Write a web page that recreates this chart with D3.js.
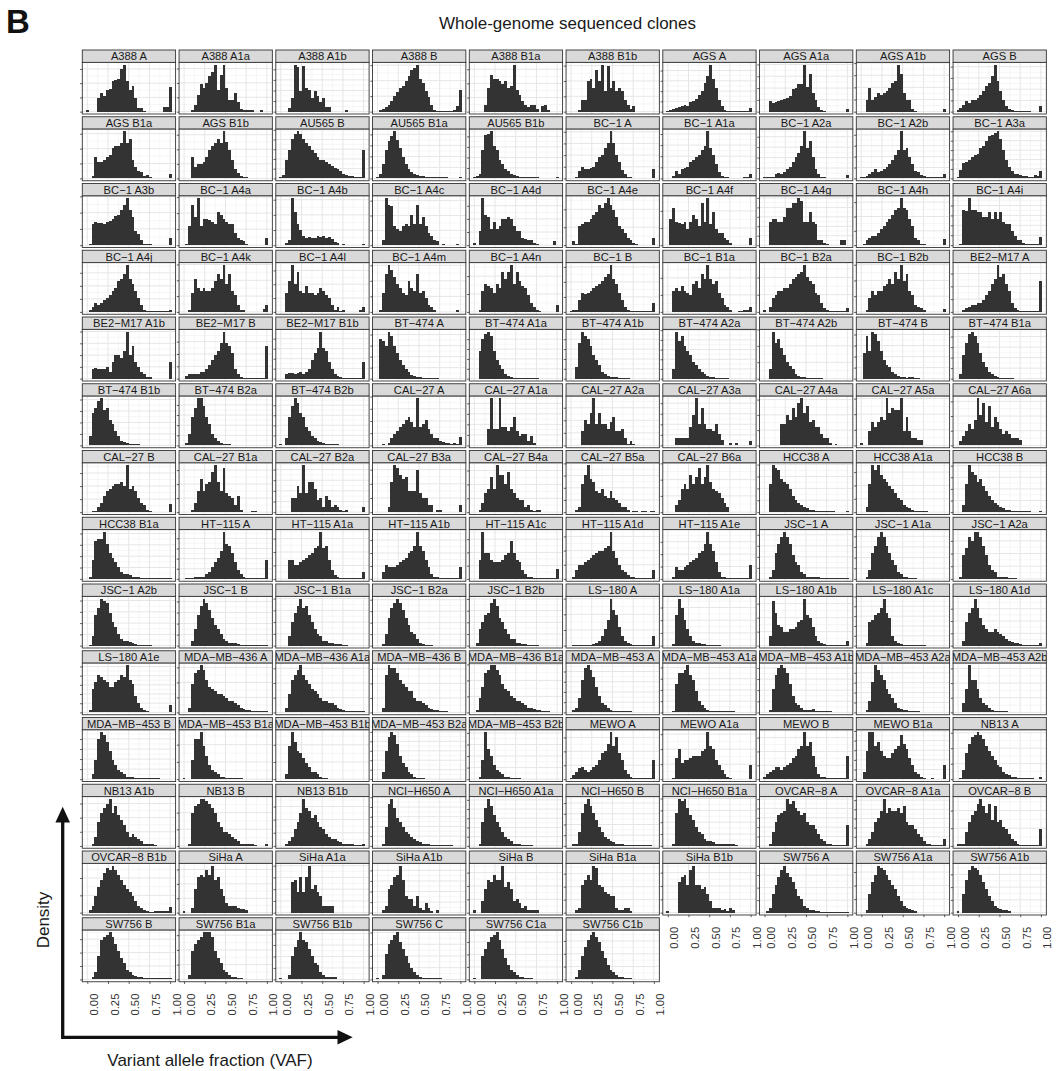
<!DOCTYPE html>
<html><head><meta charset="utf-8">
<script src="https://cdn.jsdelivr.net/npm/d3@7"></script>
<style>body{margin:0;background:#fff}svg{display:block}</style>
</head><body><svg id="chart" width="1058" height="1071"></svg>
<script>
// ---------------- DATA ----------------
const panelNames = [
"A388 A","A388 A1a","A388 A1b","A388 B","A388 B1a","A388 B1b","AGS A","AGS A1a","AGS A1b","AGS B",
"AGS B1a","AGS B1b","AU565 B","AU565 B1a","AU565 B1b","BC−1 A","BC−1 A1a","BC−1 A2a","BC−1 A2b","BC−1 A3a",
"BC−1 A3b","BC−1 A4a","BC−1 A4b","BC−1 A4c","BC−1 A4d","BC−1 A4e","BC−1 A4f","BC−1 A4g","BC−1 A4h","BC−1 A4i",
"BC−1 A4j","BC−1 A4k","BC−1 A4l","BC−1 A4m","BC−1 A4n","BC−1 B","BC−1 B1a","BC−1 B2a","BC−1 B2b","BE2−M17 A",
"BE2−M17 A1b","BE2−M17 B","BE2−M17 B1b","BT−474 A","BT−474 A1a","BT−474 A1b","BT−474 A2a","BT−474 A2b","BT−474 B","BT−474 B1a",
"BT−474 B1b","BT−474 B2a","BT−474 B2b","CAL−27 A","CAL−27 A1a","CAL−27 A2a","CAL−27 A3a","CAL−27 A4a","CAL−27 A5a","CAL−27 A6a",
"CAL−27 B","CAL−27 B1a","CAL−27 B2a","CAL−27 B3a","CAL−27 B4a","CAL−27 B5a","CAL−27 B6a","HCC38 A","HCC38 A1a","HCC38 B",
"HCC38 B1a","HT−115 A","HT−115 A1a","HT−115 A1b","HT−115 A1c","HT−115 A1d","HT−115 A1e","JSC−1 A","JSC−1 A1a","JSC−1 A2a",
"JSC−1 A2b","JSC−1 B","JSC−1 B1a","JSC−1 B2a","JSC−1 B2b","LS−180 A","LS−180 A1a","LS−180 A1b","LS−180 A1c","LS−180 A1d",
"LS−180 A1e","MDA−MB−436 A","MDA−MB−436 A1a","MDA−MB−436 B","MDA−MB−436 B1a","MDA−MB−453 A","MDA−MB−453 A1a","MDA−MB−453 A1b","MDA−MB−453 A2a","MDA−MB−453 A2b",
"MDA−MB−453 B","MDA−MB−453 B1a","MDA−MB−453 B1b","MDA−MB−453 B2a","MDA−MB−453 B2b","MEWO A","MEWO A1a","MEWO B","MEWO B1a","NB13 A",
"NB13 A1b","NB13 B","NB13 B1b","NCI−H650 A","NCI−H650 A1a","NCI−H650 B","NCI−H650 B1a","OVCAR−8 A","OVCAR−8 A1a","OVCAR−8 B",
"OVCAR−8 B1b","SiHa A","SiHa A1a","SiHa A1b","SiHa B","SiHa B1a","SiHa B1b","SW756 A","SW756 A1a","SW756 A1b",
"SW756 B","SW756 B1a","SW756 B1b","SW756 C","SW756 C1a","SW756 C1b"
];

// VAF bin centres (30 bins, ggplot default) and relative bar heights per panel
const vafBins = [0,0.0345,0.069,0.1034,0.1379,0.1724,0.2069,0.2414,0.2759,0.3103,0.3448,0.3793,0.4138,0.4483,0.4828,
                 0.5172,0.5517,0.5862,0.6207,0.6552,0.6897,0.7241,0.7586,0.7931,0.8276,0.8621,0.8966,0.931,0.9655,1];
const xTicks = [0, 0.25, 0.5, 0.75, 1];
const xTickLabels = ["0.00","0.25","0.50","0.75","1.00"];

const row01 = [
[0.3,0,0,0,2.9,3.9,3.4,4.7,4.9,6.6,6.7,7,9,10,6.6,4.7,5.5,2.9,0.7,0.7,0.2,0,0,0,0,0,0,1,1,5.3],
[0,0,0,0.3,1.5,3.5,5.8,5,6.2,7.5,8.5,10,4.7,7.8,10,5,2.5,2.4,4,2,0.5,0.4,0.4,0.3,0.3,0,0,0.3,0,0],
[0,0,0,0.8,3,10,9.5,4.5,9.8,5,4.6,3,4.4,3.4,2,3,1,1,0,0,0,0,0,0.4,0,0,0,0,0,0],
[0,0.3,0.5,1,1.5,2.2,3.3,4.2,5,5.5,6.5,7.5,8.8,9.2,10,7,6.2,4.5,3.2,1.5,0.4,0.2,0.2,0.2,0.2,0.2,0.2,0.3,1.2,4.7],
[0,0,0,0,1.5,5,7.8,7,7,6.5,6,6.5,5,5.5,10,4.7,3.5,2.3,1.5,1,1.5,1.5,0.5,0,1.2,1.5,0.3,0,0,0],
[0,0,0,0.4,2.5,2.5,6.5,7,5,8.8,6.5,10,4.5,9.8,5,6.5,4.5,5,4.5,2.5,1.5,0.5,1.3,0,0,0,0,0,0,0],
[0.2,0.3,0.5,0.8,1,1.3,1.5,1.3,2,2.3,2.8,3.5,4.5,6.2,7.5,10,7,5,2.5,1.2,0.4,0.2,0.1,0.1,0.1,0.1,0.1,0.1,0.1,0.8],
[0,0,2.3,1.9,2,2.2,2.4,2.6,3,3.3,4.8,5,5.8,6,10,5.2,8,4,2.4,1,0.3,0.2,0,0,0,0,0,0,0,0.5],
[0,0,2.5,5,2.5,3.2,4,3.5,4,4.5,5,6.2,6.5,10,8,4,2.5,2.4,0.5,0.2,0,0,0,0,0,0,0,0,0,0.5],
[0.3,0.8,1.5,2.3,1.8,2.4,2.5,3,3.5,4.5,5.5,6.2,7.5,10,6.5,4.5,2.5,1.2,0.5,0.3,0.2,0.2,0.2,0.2,0.1,0.1,0,0,0,1.2]
];
const row02 = [
[0,0,0.5,4.5,3.5,3.5,4,4.5,5,6.5,7,7,7.5,10,7.5,8.5,4,2.5,1.5,1.3,0.5,0.8,0.4,0.1,0.1,0.1,0.1,0.1,0.1,1],
[0,0,0,4.5,2.5,3,3,3.5,4.5,6,7,7.5,8.3,7.5,10,7.8,6,4,2,1.2,0.5,0.3,0.2,0.1,0.1,0.1,0.1,0.1,0.1,0.1],
[0.3,0.8,4,6,8.5,9.5,10,9.5,8.5,7.5,7,6,5.5,4.5,4,4,3.5,3,2.7,2.2,2,1.5,1,0.8,0.5,0.5,0.3,0.3,0.3,6],
[0.2,1,3,6,8,9,10,8.2,6.5,4.5,3,2,1.3,0.9,0.7,0.5,0.5,0.4,0.3,0.3,0.3,0.2,0.2,0.2,0.2,0.1,0.1,0.1,0.1,0.2],
[0.2,0.5,1,6,9.3,9.5,10,7,6,4,3,2,1.5,1,0.8,0.5,0.4,0.3,0.3,0.2,0.2,0.2,0.2,0.1,0.1,0.1,0.1,0.1,0.1,0.2],
[0,0,0.3,1.5,2.5,2,2,2.2,2.5,3.5,4.5,5,6.5,7.5,10,7.5,5,3.5,1.8,1,0.3,0.2,0.1,0.1,0.1,0.1,0.1,0.1,0.1,2],
[0,0,0.5,1.5,1,2,2.2,2.5,3.5,4,4.5,5,6,7,10,6.5,5,3,1.3,0.5,0.2,0.2,0.1,0.1,0.1,0.1,0.1,0.3,0.4,1],
[0.2,0.2,0.2,0.3,1,1.2,1,1.3,2,2.5,3.5,4.5,5.5,7,10,6.5,8,4.5,2,1,0.3,0.2,0.1,0.1,0.1,0.1,0.1,0.1,0.1,0.8],
[0.3,0.4,0.6,1,1.3,2,1.3,1.6,2,2.5,3,4,5,6,10,6,6.5,4.5,3,1.5,1.3,0.8,0.5,0.3,0.2,0.2,0.2,0.2,0.2,1],
[0.3,1.8,3.3,3.5,4,4.5,5,5.2,6.5,7,8,9,9.3,9.6,10,8.5,6,4,2.5,1.5,1,0.9,0.7,0.5,0.5,0.3,0.3,0.7,0.6,1.5]
];
const row03 = [
[0,0.3,4.5,5,4.7,4.8,4.6,5,5.2,5.5,6.3,6.5,7.5,8.5,10,7.5,6,3,2.4,1,0.2,0.3,0.2,0,0,0,0,0,0,1.5],
[0,0.2,4,8.5,6,10,4,5.5,5.5,5.3,5,4.5,7,6.5,5.5,5,4.5,4.5,2.5,1.5,1,0.8,0.2,0,0,0,0,0,0,1.5],
[0,0,0.5,1,10,7,4.5,3.3,2,1.5,1.8,1.5,1.5,2,1.8,2,1.5,1.8,1.3,0.7,0.5,0,0.3,0,0,0,0,0,0,0.3],
[0,0,1,10,8.5,8.3,4,3.5,3,4,4.5,4,6.5,4.5,8.5,4.5,6,4,2.5,2,1,0.8,0,0.3,0,0,0,0,0.3,0],
[0.5,0,3,10,6.5,6,3.5,5,3.5,4,5.5,5.5,6,5.5,4,3,3,1.5,1.3,1,1.2,0.5,0.3,0,0,0,0,0,0.8,0],
[0,0.8,0.3,4,4.5,5,5,5.5,6.5,7,8.5,8,9,10,8.5,7.5,6,4,3.5,2.5,1.5,1,0.5,0.2,0,0,0,0,0,1.5],
[0,5.5,8,5,4.8,4.5,5,3.5,5,6.5,5.5,4,9,5,10,4.5,7,3.5,2.5,2.5,1.5,1,0.5,0,0,0,0,0,0,1.5],
[0,0,5,5.5,5.5,5,5,6,8,8,9,9,10,9.5,5,5,7,5,4.5,1,1,0.5,0.2,0,0,0,0,1,1,0],
[0,0.3,1,1.5,2,2,2.5,3.5,4,5,5.5,6.5,7.5,8,10,8,7.5,5.5,4,1.5,1,0.3,0.2,0,0,0,0,0,0,1.3],
[0,0.3,7.5,7.2,10,7.5,7.5,7,7,6,6,7,5.5,7,5.5,7,5,4.5,4.5,3,2,1,1,0.5,0.3,0.3,0.2,0.2,0.2,1.8]
];
const row04 = [
[0,0.3,1,1.8,1.5,2,2.5,3,3.5,4.5,5,6.5,7,8,10,7,6,4.5,3,1.5,0.5,0.2,0.2,0.1,0.1,0.1,0.1,0.1,0.1,0.4],
[0,0,0.3,4,7,5,4.5,5,4.5,4.5,5,6.5,8,7,10,6,8,4.5,3.5,1.5,0.5,0.3,0,0,0,0,0,0,0.6,1.5],
[0,0,4,6.5,10,6,8.5,4.5,4,5.5,4,4,3.5,4,5,4.5,3.5,3,1.5,0.5,1,0.2,0.3,0,0,0,0,0,0.5,1],
[0,0.3,4,8,10,9,7.5,6,5,4,3.5,6.5,5,4.5,8,4,4.5,3,1.5,1,0.5,0,0,0,0,0,0,0,0.3,0],
[0,0,0.3,4.5,6,5.5,5,4,6,5,8.5,7,8.5,10,6,8.5,6.5,5.5,5,3.5,2,1,0.5,0.2,0,0,0,0,0,1.5],
[0.2,0.3,0.5,2.5,4,3.8,4,4.5,5,5.5,6,6.5,7.5,8,10,7,6,4,2.5,1,0.3,0.2,0.2,0.2,0.2,0.2,0.2,0.2,0.2,2],
[0,0,4.5,5,4.5,5.5,4.5,4,3.5,6,6.5,5,8,7,10,7,6,6.5,4,3,1.5,1,0.3,0,0,0.2,0.2,0.3,0.3,1],
[0.3,0,1,3,3.5,4.5,4.5,5,5,6,7,7.5,8,8.5,10,7.5,6.5,6,4,3.5,2,0.8,0.3,0.2,0.2,0.2,0.2,0.2,0.2,0.8],
[0,0,0.5,3,4.5,3.5,4.5,4.5,5.5,6,7,6,8.5,7,10,6.5,8,4.5,3.5,1.5,1,0.8,0.3,0,0,0,0,0,0,0.6],
[0,0,0.5,0.8,1.1,1.4,1.5,1.8,2,2.5,3.5,4.5,6,7,10,7.5,8,6,4.5,2,0.8,0.3,0.2,0.1,0.1,0.1,0.1,0.1,0.1,6.5]
];
const row05 = [
[0,0,2,2.2,2,2,2,2.5,1.5,3.5,5,5,4.5,6,10,5,7,3.5,2.5,1.5,1,0.3,0.3,0,0,0,0,0,0,3.5],
[0,0.5,1,1,1,1,1.5,1.5,2,3,4,5,6,7.5,10,7.5,7,5.5,2,1,0.3,0.2,0.1,0.1,0.1,0.1,0.1,0.1,0.1,7],
[0,0,1,1.2,1.2,1,1.3,1.5,1,1.5,2,4,5.5,6.5,10,6.5,6,3.5,2,1,0.5,0.3,0.1,0.1,0.1,0.1,0.1,0.1,0.1,3.5],
[0,8.5,8,7,10,9,7,5.5,4,3,2,1.5,0.8,0.5,0.3,0.3,0.2,0.1,0.1,0.1,0.1,0.1,0,0,0,0,0,0,0,0],
[0,0,6,8.5,9.5,10,9,6,4,3,2,1,0.5,0.3,0.2,0.2,0.2,0.1,0.1,0.1,0.1,0.1,0.1,0,0,0,0,0,0,0],
[0,0,2.5,7.5,10,9,8.5,7,5,4,3,1.5,1,0.5,0.3,0.3,0.3,0.2,0.1,0.1,0.1,0,0,0,0,0,0,0,0,0],
[0,0,2,10,8,9,7,6,5,3.5,3,2,1.5,1,0.5,0.4,0.3,0.2,0.2,0.1,0.1,0.1,0,0,0,0,0,0,0,0],
[0,0,2,10,7.5,8.5,6.5,5,3.5,2.8,2,1,0.5,0.3,0.3,0.2,0.2,0.1,0.1,0.1,0.1,0,0,0,0,0,0,0,0,0],
[0,5.5,9,6,10,9.5,8,6,4,3,2.5,1.5,1,0.5,0.3,0.3,0.2,0.3,0.3,0.2,0.1,0,0,0,0,0,0,0,0,0],
[0,1,5,7.5,9.5,10,9,7.5,5.5,3.5,2.5,1.5,1,0.5,0.3,0.2,0.2,0.1,0.1,0.1,0,0,0,0,0,0,0,0,0,0]
];
const row06 = [
[0,2,7,8,9.5,10,7.5,8,5.5,4.5,3,2,1,0.8,0.5,0.3,0.3,0.2,0.2,0.1,0.1,0.1,0.1,0.1,0.1,0,0,0,0,0],
[0,0.5,2.5,6,8,10,10,8.5,6,4.5,2.5,1.5,1,0.5,0.3,0.2,0.2,0.1,0.1,0.1,0,0,0,0,0,0,0,0,0,0],
[0.2,0,1.5,6,8.5,10,9,7,6,4,3,2,1.5,1,0.7,0.5,0.3,0.2,0.2,0.2,0.2,0.1,0,0,0,0,0,0,0,0],
[0,0,0.2,0,0.5,1.5,2.5,3,4,4.5,5.5,6,5,4,10,4,4.5,5.5,3.5,2.5,1.5,1.5,1,0.8,0.5,0.5,0.3,0.5,0.3,1.8],
[0,0,0,0,0,3.5,10,3.5,3.5,10,4,4,3,4,6,3,2,2.5,2.5,1,2,0.5,0,0,0,0,0,0,0,0],
[0,0,0,0,3,5.5,4.5,7,10,4.5,7,4.5,4.5,3.5,5,6,3,3,3.5,1.5,0.3,1,0.3,0,0,0,0,0,0,0],
[0,0,0,1.5,1.5,1.5,1.5,1.5,4,6.5,10,4.5,8,4.5,3.5,3.5,3,4.5,2.5,1.2,0,0,0.5,0,0.5,0,0,0,0,1],
[0,0,0,0,0,0,4.5,4.5,6.5,5.5,8,6,9,10,7,8.5,5,5.5,4,4,2.5,1.5,1.5,0.5,0,0.3,0,0,0,0],
[0.5,0,0,3,5,4,5,6,5.5,10,7,8,7.5,7.5,10,3,6,3,1.5,1.5,1.2,1.2,0,0,0,0,0,0,0,0],
[0,1,2,3,4.5,3.5,5.5,10,6.5,9,5,8.5,4,6,5,3.5,2.5,3,2.5,1.5,1.5,1.5,1.2,0,0,0,0,0,0,0]
];
const row07 = [
[0,0,0.2,0.3,1,2,3.5,4.5,5,5.5,6,6,6.5,5.5,10,5,5.5,4.5,3,2,1.5,0.5,0.2,0.1,0.1,0.1,0.1,0.1,0.1,1.8],
[0,0,0,0.5,2,4.5,7,4.5,6,6.5,8.5,10,6.5,4.5,9.5,4,3.5,3,1.5,3.5,0.5,0,0,0,0.3,0.3,0,0,0,0],
[0,0,0,0,3,3,5.5,4,10,4,6.5,6.5,5,2.5,3,1,3.5,2.5,1,1.5,1,0.5,0.3,0.5,0,0,0,0,0,1],
[0,0,0,0,1,6.5,10,9.5,8,7,7.5,4.5,4.5,4.5,9,4,3,3,1.5,1.5,0,0.5,0.5,0,0,0,0,0,0,1.5],
[0,0,0.5,2,4,5,7.5,5,10,8,8,6,8.5,5,4,3,2.5,2.5,1,1.5,0.5,0.3,0.5,0.5,0,0,0,0,0,0],
[0,0,0.5,1,6,8,10,7,6.5,4.5,4,5,3.5,3,4.5,3,2.5,2,1,1,0.5,0,0.3,0.3,0,0.3,0.3,0,0.3,0.3],
[0,0,0,1.5,2.5,5,6,5,8,6,7.5,9.5,6,7.5,10,6.5,5,4.5,4,3,2,1,0,0,0,0,0,0,0,0],
[0,0,6,10,9.5,9,7,6.5,6,5,3.5,2.5,2,1.5,1,0.8,0.5,0.5,0.3,0.2,0.2,0.2,0.2,0.2,0.2,0.1,0.1,0.1,0.1,0.3],
[0,0,1,6,10,9,10,8,7,6.5,5.5,5,4,3,2.5,1.5,1,0.8,0.5,0.3,0.2,0.2,0.2,0.2,0.1,0,0,0,0,0],
[0,0,1.5,6,10,8.5,8,6.5,7,5.5,4.5,3.5,2.5,2,1.5,1,0.8,0.5,0.4,0.3,0.2,0.2,0.2,0.2,0.2,0.2,0.1,0.1,0.1,0.3]
];
const row08 = [
[0,0.5,4,8,8.5,8.5,10,7.5,5.5,4.5,3.5,2.5,1.5,1,1,0.8,0.5,0.5,0.3,0.2,0.2,0.2,0.2,0.2,0.1,0.1,0.1,0.1,0.1,0.1],
[0,0.2,0.2,0.2,0.3,0.3,0.5,0.5,1,1.5,2.5,3.5,4.5,6,10,7.5,7,5.5,3.5,2,1,0.3,0.1,0.1,0.1,0.1,0.1,0.1,0.1,4],
[0,0,0,4,4,3,3,3.5,4,4.5,5,5.5,6.5,7,10,6.5,7,4,2,0.8,0.3,0.2,0.1,0.1,0.1,0.1,0.1,0.1,0.1,1.5],
[0,0,1.5,3,2.5,2.5,2.5,3,3.5,4,4.5,5.5,6,7,10,7,6,4,2.5,1,0.5,0.3,0.1,0.1,0.1,0.1,0.1,0.1,0.1,2.5],
[0,0,4,10,5.5,5.5,4,3.5,3.5,3.5,4,5,5.5,8,5.5,4,3.5,2,1,0.5,0.3,0.1,0.1,0.1,0.1,0.1,0.1,0.1,0.1,2.2],
[0,0.3,2,3,3,3.5,4,4.5,5,5.5,6,6,6.5,7,10,6,4.5,3,2,1.5,0.8,0.5,0.3,0.1,0.1,0.1,0.1,0.1,0.1,2],
[0,0,0.3,2.5,2,2,2.5,3,3.5,4,4.5,5.5,6,7.5,10,7.5,6,3.5,1.5,0.5,0.3,0.1,0.1,0.1,0.1,0.1,0.1,0.1,0.1,3],
[0,0,0.5,2,5.5,7.5,9,10,9,7.5,5,3.5,3,1.5,1,0.5,0.5,0.4,0.4,0.3,0.2,0.1,0.1,0.1,0.1,0.1,0.1,0.1,0.1,0.1],
[0,0,0.3,2,5.5,7,9,10,9,7,5.5,4,3,1.5,1,0.3,0.3,0.2,0.1,0.1,0,0,0,0,0,0,0,0,0,0],
[0,0.3,5,6.5,9,8,10,10,9,7,5,3,2,1.5,0.5,0.3,0.5,0.3,0.2,0.1,0.1,0,0,0,0,0,0,0,0,0]
];
const row09 = [
[0,0.2,2,6.5,8,10,9.5,9,7,5,4,2.5,1.5,1,1,0.8,0.5,0.3,0.2,0.2,0.2,0.2,0.1,0,0,0,0,0,0,0],
[0,0,0,1,3.5,6.5,8.5,10,9,7.5,6,4.5,3.5,2.5,1.5,1,0.5,0.5,0.5,0.3,0.2,0.2,0.2,0.2,0.2,0.1,0.1,0.1,0.1,0.1],
[0,0,0,2,5,7,8.5,10,8,8.5,6.5,5,3.5,2.5,2,1,1,0.5,0.5,0.3,0.3,0.3,0.2,0.1,0,0,0,0,0,0],
[0,0,0.3,2.5,6,8,9,10,9,7.5,6,4.5,3,2.5,1.5,0.5,0.3,0.2,0.1,0.1,0,0,0,0,0,0,0,0,0,0],
[0,0.5,3.5,5,6.5,7,9,10,8.5,6,5,3.5,2.5,1.5,1.5,0.5,0.5,0.3,0.3,0.2,0.1,0.1,0.1,0,0,0,0,0,0,0],
[0,0.1,0.1,0.1,0.2,0.2,0.2,0.2,0.3,0.5,1,2,3.5,5.5,10,7.5,6.5,4,2,1,0.5,0.3,0.1,0.1,0.1,0.1,0.1,0.1,0.1,2],
[0,0,0.3,6.5,10,8,5.5,3.5,2,1,0.5,0.5,0.3,0.3,0.2,0.2,0.2,0.2,0.1,0,0,0,0,0,0,0,0,0,0,0],
[0,0,2,9.5,7,4.5,4,3,3,3.5,3.5,4,5,5.5,10,6.5,6,4,2,1,0.5,0.3,0.1,0.1,0.1,0.1,0.1,0.1,0.1,1],
[0,0,0.5,5,5.5,6.5,7,8,10,7,6,2,1,0.5,0.3,0.2,0.2,0.2,0.2,0.2,0.2,0.2,0.1,0,0,0,0,0,0,0],
[0,0,1,5,7,8,10,8,6,4.5,3.5,3,3,3.5,3,2.5,2,1.5,1,0.8,0.5,0.5,0.3,0.2,0.2,0.2,0.2,0.1,0.1,0.5]
];
const row10 = [
[0,0.5,5,6.5,8,7.5,7,6.5,5.5,5.5,6.5,7,8,7.5,10,7,6,3.5,2,1,0.5,0.3,0.1,0.1,0.1,0.1,0.1,0.1,0.1,1.5],
[0,0,1,6,8.5,9,10,9,7,5.5,5,4.5,4,4,3.5,3,2.5,2.5,2,1.5,1,0.8,0.5,0.5,0.3,0.2,0.2,0.2,0.2,0.2],
[0,0,1,4,7,8,9,10,8,7,6,5,4.5,4,3,2.5,2.5,2,2,1.5,1,0.8,0.5,0.3,0.3,0.2,0.2,0.2,0.2,0.2],
[0,0,1,8,10,9.5,9.5,8.5,7,6,5.5,4.5,4.5,3,2.5,2.5,2,1.5,1,0.8,0.5,0.5,0.3,0.2,0.2,0.1,0.1,0.1,0.1,0.1],
[0,0.5,3,5.5,8.5,9,10,10,9,8,6,5,4.5,3.5,3,2.5,2.5,2,1.5,1,1,0.8,0.5,0.5,0.3,0.2,0.2,0.1,0.1,0.1],
[0,0.5,1,3,7,9.5,10,9,7.5,5.5,3.5,2,1.5,1,0.5,0.3,0.3,0.2,0.2,0.2,0.2,0.2,0.1,0,0,0,0,0,0,0],
[0,0,0.3,6,8.5,8.5,9,10,8,7,4.5,2.5,1.5,1,0.5,0.3,0.3,0.2,0.2,0.2,0.2,0.2,0.2,0.2,0.1,0,0,0,0,0],
[0,0,0.5,5,8,9.5,10,9.5,8.5,6,3.5,2,1.5,1,0.5,0.5,0.5,0.8,0.3,0.2,0.2,0.2,0.2,0.2,0.1,0,0,0,0,0],
[0,0,0.5,2.5,6.5,10,9,8,7,5,4,3,2,1,0.8,0.5,0.5,0.2,0.2,0.2,0.2,0.1,0.1,0,0,0,0,0,0,0],
[0,0,2,5,10,7,7,5,3,2,1.5,1,0.5,0.3,0.3,0.2,0.2,0.2,0.1,0,0,0,0,0,0,0,0,0,0,0]
];
const row11 = [
[0,0,1,4,8.5,10,9.5,8,6,4,3,2,1.5,1,0.5,0.5,0.4,0.2,0.2,0.2,0.2,0.2,0.2,0.2,0.2,0.2,0.1,0.1,0.1,0.1],
[0.3,0,0,4,8.5,8.5,10,7,5,3,2,1.5,1,0.5,0.5,0.3,0.2,0.2,0.2,0.2,0.2,0.1,0.1,0,0,0,0,0,0,0],
[0,0,1,7,10,8,6,5.5,4.5,3.5,2.5,1.5,1.5,1,0.5,0.3,0.2,0.1,0,0,0,0,0,0,0,0,0,0,0,0],
[0,0,1.5,6,9,10,9.5,7.5,5,3.5,2.5,1.5,1,0.5,0.3,0.3,0.2,0.1,0,0,0,0,0,0,0,0,0,0,0,0],
[0,0,0.5,4,10,6.5,5,3,2,1.5,1,0.5,0.5,0.3,0.3,0.3,0.2,0.1,0,0,0,0,0,0,0,0,0,0,0,0],
[0.3,0.8,1.5,2.3,2.5,2,1.5,2,2.5,3,4,5.5,6,7.5,10,7,9,5.5,4,2,1,0.5,0.3,0.2,0.2,0.2,0.2,0.2,0.2,4],
[0,0,0.3,4.5,6.5,3.5,4,4,4.5,5,5,5,6,6.5,10,7,6.5,4,3,2,1,0.5,0.3,0.1,0.1,0.1,0.1,0.1,0.1,3],
[0.5,1,1.5,2,2.5,2.5,2,2.5,3,3.5,4.5,5,6.5,7,10,7,8,5,2.5,1,0.5,0.5,0.3,0.3,0.3,0.3,0.3,0.3,0.3,5],
[0,1.5,6,10,10,7,8,6,5,4.5,4.5,5.5,6.5,7,9.5,7.5,6.5,4.5,3,1.5,1,0.5,0.3,0,0,0.3,0,0,0,3],
[0,0.3,2,5.5,7.5,9,9.5,10,9.5,8.5,7,6,5,4,3,2.5,1.5,1,0.8,0.5,0.5,0.3,0.2,0.2,0.2,0.2,0.2,0.1,0.1,0.5]
];
const row12 = [
[0,0,0.5,2,5,7,8,9,10,7,8.5,6.5,5.5,4.5,3,2,2.5,2,1.5,1,0.5,0.5,0.3,0.3,0.2,0,0,0,0,0],
[0,0,0.5,7,8.5,9,10,10,9.5,9,8,7,5,4,3,3,2.5,2,1.5,1,0.5,0.3,0.3,0.3,0.3,0.2,0,0,0,0.3],
[0,0,0.3,1,2,3.5,5,7,10,8,7.5,6,6.5,5,4,3.5,2.5,2,1.5,1.5,1,0.8,0.5,0.5,0.3,0.3,0.2,0.1,0.1,0.5],
[0,0,0.5,4,9,10,8,6,5,4,3,2.5,2,1.5,1,0.8,0.5,0.5,0.3,0.2,0.2,0.2,0.2,0.2,0.2,0.2,0.1,0,0,0],
[0,0,0.5,5,8,10,8.5,6.5,5,4,3,2,1.5,1,0.5,0.5,0.3,0.2,0.2,0.1,0.1,0,0,0,0,0,0,0,0,0],
[0,0.3,0.5,3,7,9,10,8.5,7,5.5,4,3,2,1.5,1,0.8,0.5,0.5,0.3,0.2,0.2,0.2,0.2,0.2,0.2,0.2,0.2,0.1,0.1,0],
[0,0,0.3,7,10,9.5,10,8,6.5,5.5,4,3,2.5,1.5,1,1,0.8,0.5,0.5,0.3,0.3,0.3,0.3,0.3,0.1,0,0,0,0,0],
[0,0,0.5,3,5,6.5,7,7.5,10,9,9.5,8,7.5,6.5,7,5,4.5,4.5,3.5,2.5,1.5,1,0.5,0.3,0.2,0.2,0.2,0.2,0.2,4.5],
[0,0,0.5,1.5,3,5,6,7.5,10,7,8,7.5,7.5,8,7,8.5,5,4.5,4.5,3.5,2.5,2,1,0.5,0.3,0.2,0.2,0.2,0.2,1.5],
[0.3,0.5,0.5,3,5,6.5,7.5,9,10,8.5,7,9,5.5,8.5,5,5.5,4,3.5,2.5,1.5,1,0.5,0.2,0.2,0.2,0.2,0.2,0.2,0.2,3.5]
];
const row13 = [
[0,0.5,1.5,3.5,5.5,7,8.5,9.5,9,10,9,8,7,6,5,4.5,3.5,2.5,1.5,1,0.5,0.3,0.2,0.2,0.3,0.3,0.3,0.3,0.3,1.3],
[0.3,0,0,1,5,7.5,8,7.5,9,8,10,7,7.5,5,3.5,2,1.5,1.5,1.5,1,0.8,0.8,0.5,0,0,0,0,0,0,0],
[0,0,0,0,6.5,7,4.5,7.5,4.5,7.5,10,5,6,4.5,3.5,1.5,1.5,1.5,1.5,0,0,0,0,0,0,0,0,0,0,0],
[0,0,0.5,1.5,5,6,7.5,8,10,7,3.5,3,3,1.5,3.5,1,0.5,2,1,0.3,0,0.5,0,0,0,0,0,0,0,0],
[0.5,0,0,2.5,5,7,6.5,8,7,7,10,5.5,6.5,5,2.5,3,2,1,1.5,0.5,0.5,0.5,0.5,0,0,0,0,0,0,0],
[0,0,0.5,1,6,7,8,7,10,9.5,6,5.5,4.5,4,3.5,3.5,1,0.5,0.5,1,1,0.3,0,0,0,0,0,0,0,0],
[0.3,0,0,0,6.5,7.5,8,6,9,10,6,6,5,5.5,4,2.5,1,1,1,0.5,0.8,0.3,1,0.5,0,0,0,0,0,0],
[0,0.3,1,4,6,7.5,9,10,8.5,7.5,6.5,5,3.5,3,1.5,1,0.5,0.5,0.3,0.3,0.2,0.2,0.2,0.2,0.1,0.1,0.1,0.1,0.1,0.1],
[0,0,0.5,4,6.5,8,10,9.5,9,8,7,6,5,3.5,2.5,1.5,1,0.8,0.5,0.3,0,0,0,0,0,0,0,0,0,0],
[0.3,0,4,7,9,10,9.5,9,8,6.5,5,3.5,2.5,1.5,1,0.8,0.5,0.5,0.3,0,0,0,0,0,0,0,0,0,0,0]
];
const row14 = [
[0,0,0.5,1.5,5,8.5,9,9.5,10,9,7.5,6,4.5,3.5,2,1.5,1,0.8,0.5,0.5,0.3,0.2,0.2,0.2,0.2,0.2,0.2,0.2,0.2,0.2],
[0,0,1,6,7.5,8.5,9,10,10,10,9,6,4.5,3.5,2,1.5,1,0.5,0.5,0.3,0.3,0,0,0,0,0,0,0,0,0],
[0.3,0,0,1,5,7,8.5,10,8.5,8,6.5,5,3.5,3,1.5,1,0.5,0.5,0.5,0.5,0,0,0,0,0,0,0,0,0,0],
[0.3,0,1,5.5,7.5,8.5,9.5,10,8,6.5,5,3.5,2.5,1.5,1,0.5,0.3,0.3,0.2,0.2,0.2,0.2,0.2,0,0,0,0,0,0,0],
[0.3,0,0,5,6.5,8,9,9.5,10,8.5,6.5,4.5,3,2,1.5,1,0.5,0.5,0.3,0.3,0.3,0,0,0,0,0,0,0,0,0],
[0,0,0.5,2,5,7,8.5,9.5,10,9,8,6,4.5,3,2,1.5,1,0.5,0.5,0.3,0.2,0.2,0,0,0,0,0,0,0,0]
];

// ---------------- LAYOUT ----------------
const svg = d3.select("#chart");
const FONT = "'Liberation Sans', Arial, Helvetica, sans-serif";
const nCols = 10;
const colLeft0 = 82.3, colPitch = 96.75, panelW = 93.3;
const rowTop0 = 50, rowPitch = 66.75, stripH = 12.4, plotH = 51.6;
const binWidth = vafBins[1] - vafBins[0];
const xDomain = [-0.0604, 1.066];
const dark = "#333333";

const allHeights = [].concat(row01,row02,row03,row04,row05,row06,row07,row08,row09,row10,row11,row12,row13,row14);
const panels = panelNames.map((name, i) => ({name, h: allHeights[i], idx: i, r: Math.floor(i / nCols), c: i % nCols}));

svg.append("rect").attr("width",1058).attr("height",1071).attr("fill","#fff");

// Panel letter and title
svg.append("text").attr("x",6).attr("y",32.7).attr("font-family",FONT).attr("font-weight","bold")
  .attr("font-size",33).attr("fill","#111").text("B");
svg.append("text").attr("x",567.5).attr("y",29.3).attr("text-anchor","middle").attr("font-family",FONT)
  .attr("font-size",17).attr("fill","#1a1a1a").text("Whole-genome sequenced clones");

const defs = svg.append("defs");

function minorBreaks(b, lim){
  if (b.length < 2) return [];
  const bd = b[1]-b[0];
  let bb = b.slice();
  if (lim[0] < bb[0]) bb.unshift(bb[0]-bd);
  if (lim[1] > bb[bb.length-1]) bb.push(bb[bb.length-1]+bd);
  const m = [];
  for (let i=0;i<bb.length-1;i++) m.push((bb[i]+bb[i+1])/2);
  return m.filter(v => v>=lim[0] && v<=lim[1]);
}

const lastRowOfCol = d3.range(nCols).map(c => d3.max(panels.filter(p=>p.c===c), p=>p.r));

panels.forEach(p => {
  const left = colLeft0 + p.c*colPitch;
  const sTop = rowTop0 + p.r*rowPitch;
  const pTop = sTop + stripH;
  const pBot = pTop + plotH;
  const g = svg.append("g");

  const x = d3.scaleLinear().domain(xDomain).range([left, left+panelW]);
  const total = d3.sum(p.h);
  const dens = p.h.map(v => v/(total*binWidth));
  const maxD = d3.max(dens);
  const y = d3.scaleLinear().domain([-0.05*maxD, 1.05*maxD]).range([pBot, pTop]);

  // strip
  const clipId = "clip"+p.idx;
  defs.append("clipPath").attr("id",clipId).append("rect")
    .attr("x",left).attr("y",sTop).attr("width",panelW).attr("height",stripH);
  g.append("rect").attr("x",left).attr("y",sTop).attr("width",panelW).attr("height",stripH)
    .attr("fill","#d9d9d9").attr("stroke",dark).attr("stroke-width",0.9);
  g.append("text").attr("clip-path","url(#"+clipId+")")
    .attr("x",left+panelW/2).attr("y",sTop+10.3).attr("text-anchor","middle")
    .attr("font-family",FONT).attr("font-size",11.2).attr("fill","#1a1a1a").text(p.name);

  // panel background
  g.append("rect").attr("x",left).attr("y",pTop).attr("width",panelW).attr("height",plotH).attr("fill","#fff");

  // grid
  const yMaj = y.ticks(4).filter(v => v>=y.domain()[0] && v<=y.domain()[1]);
  const yMin = minorBreaks(yMaj, y.domain());
  const xMin = minorBreaks(xTicks, xDomain);
  g.selectAll(null).data(xMin).join("line")
    .attr("x1",d=>x(d)).attr("x2",d=>x(d)).attr("y1",pTop).attr("y2",pBot)
    .attr("stroke","#f0f0f0").attr("stroke-width",0.6);
  g.selectAll(null).data(yMin).join("line")
    .attr("x1",left).attr("x2",left+panelW).attr("y1",d=>y(d)).attr("y2",d=>y(d))
    .attr("stroke","#f0f0f0").attr("stroke-width",0.6);
  g.selectAll(null).data(xTicks).join("line")
    .attr("x1",d=>x(d)).attr("x2",d=>x(d)).attr("y1",pTop).attr("y2",pBot)
    .attr("stroke","#e6e6e6").attr("stroke-width",1);
  g.selectAll(null).data(yMaj).join("line")
    .attr("x1",left).attr("x2",left+panelW).attr("y1",d=>y(d)).attr("y2",d=>y(d))
    .attr("stroke","#e6e6e6").attr("stroke-width",1);

  // bars
  const bars = vafBins.map((b,i) => ({b, d: dens[i]})).filter(o => o.d > 0);
  g.selectAll(null).data(bars).join("rect")
    .attr("x", o => x(o.b - binWidth/2))
    .attr("width", o => x(o.b + binWidth/2) - x(o.b - binWidth/2))
    .attr("y", o => y(o.d))
    .attr("height", o => y(0) - y(o.d))
    .attr("fill", dark).attr("shape-rendering","crispEdges");

  // panel border
  g.append("rect").attr("x",left).attr("y",pTop).attr("width",panelW).attr("height",plotH)
    .attr("fill","none").attr("stroke",dark).attr("stroke-width",0.9);

  // y axis ticks (no labels)
  const ya = g.append("g").attr("transform","translate("+left+",0)")
    .call(d3.axisLeft(y).tickValues(yMaj).tickSize(2.2).tickFormat(""));
  ya.select(".domain").remove();
  ya.selectAll(".tick line").attr("stroke",dark).attr("stroke-width",0.8);

  // x axis for bottom panel of each column
  if (p.r === lastRowOfCol[p.c]) {
    const xa = g.append("g").attr("transform","translate(0,"+pBot+")")
      .call(d3.axisBottom(x).tickValues(xTicks).tickSize(2.2).tickFormat((d,i)=>xTickLabels[i]));
    xa.select(".domain").remove();
    xa.selectAll(".tick line").attr("stroke",dark).attr("stroke-width",0.8);
    xa.selectAll(".tick text")
      .attr("transform","rotate(-90)")
      .attr("x",-11.8).attr("y",10).attr("dy",null)
      .attr("text-anchor","end")
      .attr("font-family",FONT).attr("font-size",11.3).attr("fill","#333");
  }
});

// Axis arrows and labels
const ink = "#111";
svg.append("path")
  .attr("d","M62.7,821 L62.7,1037.3 L338.5,1037.3")
  .attr("fill","none").attr("stroke",ink).attr("stroke-width",3.3)
  .attr("stroke-linejoin","miter").attr("stroke-linecap","square");
svg.append("path").attr("d","M62.7,806.7 L55.4,822.5 L70,822.5 Z").attr("fill",ink);
svg.append("path").attr("d","M352.7,1037.3 L337.5,1030 L337.5,1044.6 Z").attr("fill",ink);

svg.append("text").attr("transform","translate(49.1,920) rotate(-90)")
  .attr("text-anchor","middle").attr("font-family",FONT).attr("font-size",17).attr("fill","#1a1a1a")
  .text("Density");
svg.append("text").attr("x",210).attr("y",1065.5)
  .attr("text-anchor","middle").attr("font-family",FONT).attr("font-size",17).attr("fill","#1a1a1a")
  .text("Variant allele fraction (VAF)");
</script>
</body></html>
